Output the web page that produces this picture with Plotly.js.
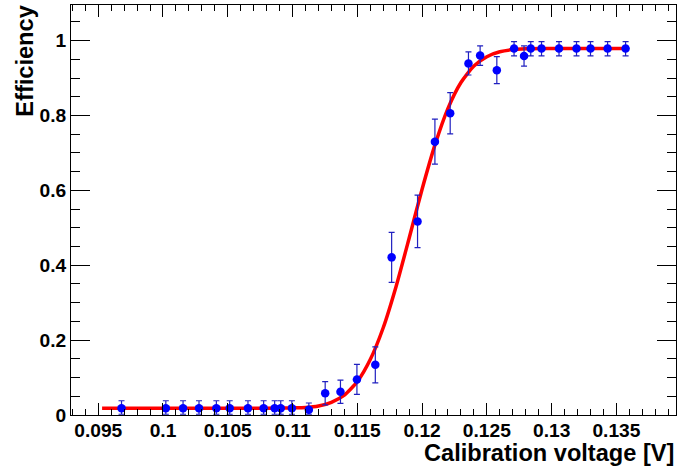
<!DOCTYPE html>
<html>
<head>
<meta charset="utf-8">
<script src="https://cdn.plot.ly/plotly-3.0.1.min.js"></script>
<style>html,body{margin:0;padding:0;background:#fff;}#chart{width:678px;height:468px;}</style>
</head>
<body>
<div id="chart"></div>
<script>
// ---- data ----
const voltage = [0.09680, 0.10022, 0.10155, 0.10278, 0.10412, 0.10515, 0.10656, 0.10777, 0.10862, 0.10909, 0.10995,
  0.11126, 0.11252, 0.11370, 0.11497, 0.11639, 0.11765, 0.11965, 0.12099, 0.12217, 0.12358, 0.12448, 0.12577,
  0.12710, 0.12787, 0.12839, 0.12922, 0.13057, 0.13192, 0.13300, 0.13432, 0.13571];
const efficiency = [0.018, 0.018, 0.018, 0.018, 0.018, 0.018, 0.018, 0.018, 0.018, 0.018, 0.018,
  0.014, 0.058, 0.062, 0.095, 0.134, 0.421, 0.517, 0.730, 0.806, 0.939, 0.960, 0.921,
  0.979, 0.959, 0.979, 0.979, 0.979, 0.979, 0.979, 0.979, 0.979];
const errHigh = [0.020, 0.020, 0.020, 0.020, 0.020, 0.020, 0.020, 0.020, 0.020, 0.020, 0.020,
  0.018, 0.031, 0.031, 0.040, 0.048, 0.067, 0.070, 0.060, 0.055, 0.031, 0.026, 0.036,
  0.018, 0.027, 0.018, 0.018, 0.018, 0.018, 0.018, 0.018, 0.018];
const errLow = [0.016, 0.016, 0.016, 0.016, 0.016, 0.016, 0.016, 0.016, 0.016, 0.016, 0.016,
  0.012, 0.031, 0.031, 0.040, 0.048, 0.067, 0.070, 0.060, 0.055, 0.031, 0.026, 0.036,
  0.020, 0.027, 0.020, 0.020, 0.020, 0.020, 0.020, 0.020, 0.020];

// fit curve
const fitVoltage = [0.0953, 0.100, 0.105, 0.108, 0.110, 0.111, 0.112, 0.113, 0.114, 0.115, 0.116, 0.117,
  0.118, 0.119, 0.120, 0.121, 0.122, 0.123, 0.124, 0.125, 0.126, 0.127, 0.128, 0.129, 0.131, 0.1357];
const fitEfficiency = [0.018, 0.018, 0.018, 0.018, 0.019, 0.020, 0.024, 0.034, 0.053, 0.089, 0.148, 0.233,
  0.344, 0.472, 0.603, 0.722, 0.819, 0.888, 0.932, 0.957, 0.970, 0.976, 0.978, 0.979, 0.979, 0.979];

const xTickVals = [0.095, 0.1, 0.105, 0.11, 0.115, 0.12, 0.125, 0.13, 0.135];
const xTickText = ['0.095', '0.1', '0.105', '0.11', '0.115', '0.12', '0.125', '0.13', '0.135'];
const yTickVals = [0, 0.2, 0.4, 0.6, 0.8, 1];
const yTickText = ['0', '0.2', '0.4', '0.6', '0.8', '1'];

const xTitle = 'Calibration voltage [V]';
const yTitle = 'Efficiency';

const FAM = '"Liberation Sans", Arial, Helvetica, sans-serif';
const titleSize = 23.6;
const tickSize = 19.2;

const traces = [
  {
    x: fitVoltage, y: fitEfficiency, type: 'scatter', mode: 'lines',
    line: { color: '#ff0000', width: 3.5, shape: 'spline', smoothing: 0.6 },
    hoverinfo: 'skip', showlegend: false
  },
  {
    x: voltage, y: efficiency, type: 'scatter', mode: 'markers',
    marker: { color: '#0000ff', size: 8.5 },
    error_y: { type: 'data', symmetric: false, array: errHigh, arrayminus: errLow, color: '#2020c0', thickness: 1.2, width: 3 },
    showlegend: false
  }
];

const axisCommon = {
  showline: true, linecolor: '#000', linewidth: 1, mirror: 'allticks',
  ticks: 'inside', tickcolor: '#000', tickwidth: 1,
  showgrid: false, zeroline: false,
  tickmode: 'array',
  tickfont: { family: FAM, size: tickSize, color: '#000', weight: 'bold' }
};

const layout = {
  width: 678, height: 468,
  margin: { l: 71, r: 2, t: 5, b: 53, pad: 0 },
  paper_bgcolor: '#fff', plot_bgcolor: '#fff',
  showlegend: false,
  xaxis: Object.assign({}, axisCommon, {
    range: [0.0929, 0.1396], tickvals: xTickVals, ticktext: xTickText.map(t => '<b>' + t + '</b>'), ticklen: 12,
    ticklabelstandoff: -2,
    minor: { tickmode: 'linear', tick0: 0.095, dtick: 0.001, ticks: 'inside', ticklen: 6, tickcolor: '#000', showgrid: false }
  }),
  yaxis: Object.assign({}, axisCommon, {
    range: [0, 1.095], tickvals: yTickVals, ticktext: yTickText.map(t => '<b>' + t + '</b>'), ticklen: 19,
    minor: { tickmode: 'linear', tick0: 0, dtick: 0.05, ticks: 'inside', ticklen: 9, tickcolor: '#000', showgrid: false }
  }),
  annotations: [
    { text: '<b>' + xTitle + '</b>', xref: 'paper', yref: 'paper', x: 1, y: -0.093, xanchor: 'right', yanchor: 'middle', showarrow: false,
      font: { family: FAM, size: titleSize, color: '#000' } },
    { text: '<b>' + yTitle + '</b>', xref: 'paper', yref: 'paper', x: -0.076, y: 1.002, xanchor: 'center', yanchor: 'top', textangle: -90, showarrow: false,
      font: { family: FAM, size: titleSize, color: '#000' } }
  ]
};

Plotly.newPlot('chart', traces, layout, { displayModeBar: false, staticPlot: true });
</script>
</body>
</html>
